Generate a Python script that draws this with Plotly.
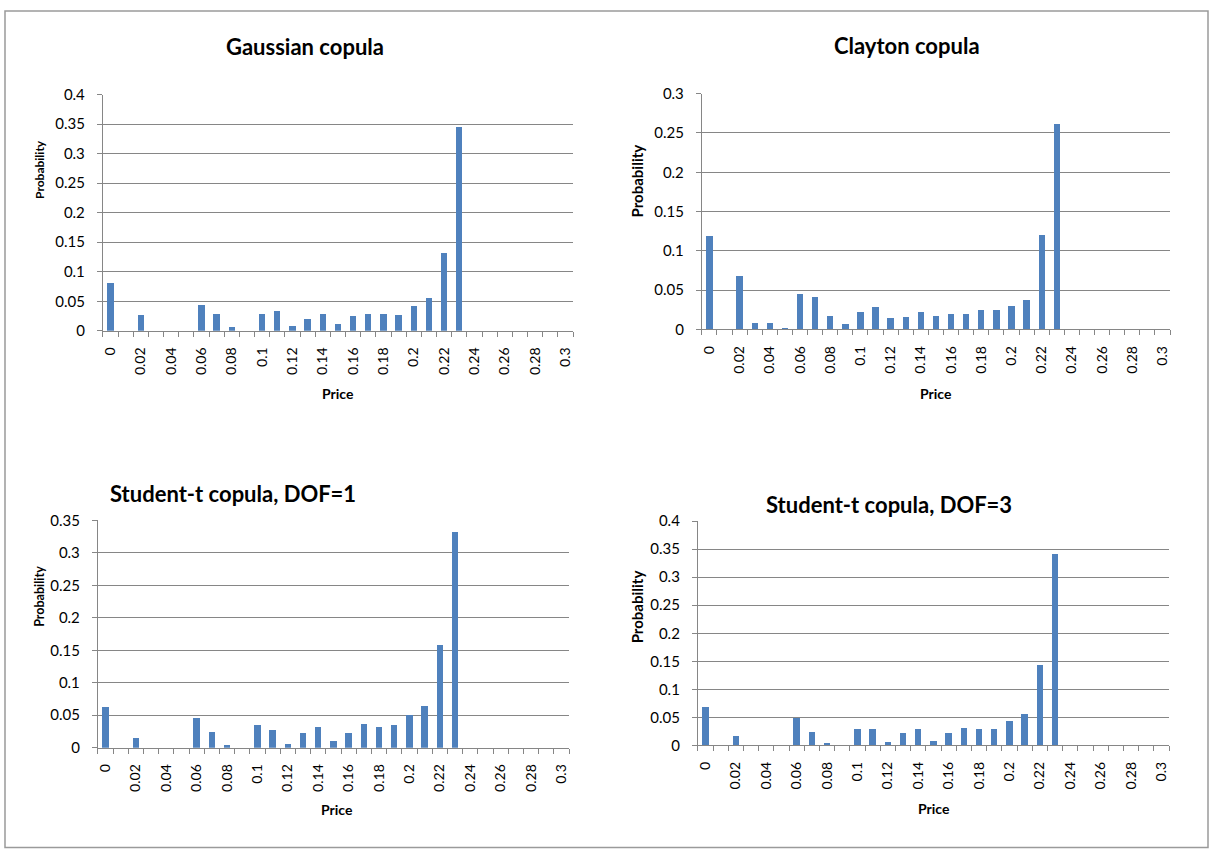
import plotly.graph_objects as go

W, H = 1209, 856

prices = [round(i * 0.01, 2) for i in range(31)]
tick_vals = [round(i * 0.02, 2) for i in range(16)]
tick_text = ["0", "0.02", "0.04", "0.06", "0.08", "0.1", "0.12", "0.14",
             "0.16", "0.18", "0.2", "0.22", "0.24", "0.26", "0.28", "0.3"]

titles = ["Gaussian copula", "Clayton copula",
          "Student-t copula, DOF=1", "Student-t copula, DOF=3"]

gaussian = [0.0815, 0.0, 0.0266, 0.0005, 0.0005, 0.0005, 0.044, 0.028, 0.0068, 0.0005,
            0.028, 0.0334, 0.0085, 0.0198, 0.028, 0.0107, 0.0243, 0.028, 0.028, 0.0266,
            0.0419, 0.0554, 0.1318, 0.346, 0, 0, 0, 0, 0, 0, 0]
clayton = [0.119, 0.0, 0.0676, 0.008, 0.008, 0.002, 0.0446, 0.0412, 0.0178, 0.0064,
           0.0217, 0.028, 0.0149, 0.016, 0.0217, 0.0178, 0.0195, 0.0195, 0.0246, 0.0246,
           0.0297, 0.0378, 0.120, 0.2618, 0, 0, 0, 0, 0, 0, 0]
student1 = [0.0623, 0.0, 0.0144, 0, 0, 0, 0.0463, 0.0247, 0.0041, 0,
            0.0345, 0.0268, 0.0062, 0.0226, 0.0324, 0.0103, 0.0226, 0.037, 0.0324, 0.0345,
            0.051, 0.0643, 0.158, 0.332, 0, 0, 0, 0, 0, 0, 0]
student3 = [0.0685, -0.001, 0.0174, -0.001, -0.001, -0.001, 0.048, 0.0246, 0.0036, -0.001,
            0.0294, 0.0294, 0.006, 0.0222, 0.0294, 0.0084, 0.0222, 0.0318, 0.0294, 0.0294,
            0.0432, 0.0553, 0.1435, 0.341, 0, 0, 0, 0, 0, 0, 0]

series = [gaussian, clayton, student1, student3]
y_max = [0.4, 0.3, 0.35, 0.4]

# layout positions in pixels: (left, right, top, bottom)
areas = [(101, 572, 94.3, 330), (701, 1170, 93.3, 328.7),
         (96, 568, 519.3, 746), (697, 1169, 520, 743.7)]
title_pos = [(304, 46), (906, 45), (231, 492), (888, 503)]
price_pos = [(337, 393), (936, 393), (336, 808), (934, 807)]
prob_pos = [(37.5, 169), (637, 180), (37.5, 595), (636, 605)]
prob_size = [12, 15, 12.5, 15]


def px(x):
    return x / W


def py(y):
    # slight vertical compensation so that the photographed page lines up
    yp = 428 + (y - 428) / 0.977
    return 1 - yp / H


FONT = "Lato, Carlito, Calibri, sans-serif"
GRID = "#868686"
BAR = "#4F81BD"

fig = go.Figure()
layout = dict(width=W, height=H, margin=dict(l=0, r=0, t=0, b=0),
              paper_bgcolor="white", plot_bgcolor="white", showlegend=False,
              font=dict(family=FONT, color="black"), bargap=0)
annotations = []

for i in range(4):
    sfx = "" if i == 0 else str(i + 1)
    left, right, top, bottom = areas[i]
    fig.add_trace(go.Bar(x=prices, y=series[i], width=0.0042, marker_color=BAR,
                         marker_line_width=0, xaxis="x" + sfx, yaxis="y" + sfx,
                         cliponaxis=False, hoverinfo="skip"))
    layout["xaxis" + sfx] = dict(
        domain=[px(left), px(right)], anchor="y" + sfx,
        range=[-0.005, 0.305], tickvals=tick_vals, ticktext=tick_text,
        tickangle=-90, ticks="", showgrid=False, zeroline=False,
        showline=True, linecolor=GRID, linewidth=1, ticklabelstandoff=10,
        minor=dict(tick0=-0.005, dtick=0.01, ticks="outside", ticklen=5,
                   tickcolor=GRID, showgrid=False),
        tickfont=dict(size=14, family=FONT), fixedrange=True)
    layout["yaxis" + sfx] = dict(
        domain=[py(bottom), py(top)], anchor="x" + sfx,
        range=[0, y_max[i]], dtick=0.05, showgrid=True, gridcolor=GRID,
        gridwidth=1, zeroline=False, showline=True, linecolor=GRID,
        ticks="outside", ticklen=5, tickcolor=GRID, ticklabelstandoff=9,
        tickfont=dict(size=15, family=FONT), fixedrange=True)
    tx, ty = title_pos[i]
    annotations.append(dict(text="<b>" + titles[i] + "</b>", x=px(tx), y=py(ty),
                            xref="paper", yref="paper", showarrow=False,
                            xanchor="center", yanchor="middle",
                            font=dict(size=22, family=FONT)))
    ax_, ay_ = price_pos[i]
    annotations.append(dict(text="<b>Price</b>", x=px(ax_), y=py(ay_),
                            xref="paper", yref="paper", showarrow=False,
                            xanchor="center", yanchor="middle",
                            font=dict(size=14, family=FONT)))
    qx, qy = prob_pos[i]
    annotations.append(dict(text="<b>Probability</b>", x=px(qx), y=py(qy),
                            xref="paper", yref="paper", showarrow=False,
                            xanchor="center", yanchor="middle",
                            textangle=-90, font=dict(size=prob_size[i], family=FONT)))

layout["annotations"] = annotations
layout["shapes"] = [dict(type="rect", xref="paper", yref="paper",
                         x0=3 / W, x1=1208 / W, y0=0.6 / H, y1=1 - 1.0 / H,
                         line=dict(color="#9a9a9a", width=1.5))]
fig.update_layout(**layout)
fig.write_html("out.html", config={"displayModeBar": False, "staticPlot": True},
               post_script="document.body.style.margin='0';"
                           "document.body.style.overflow='hidden';")
